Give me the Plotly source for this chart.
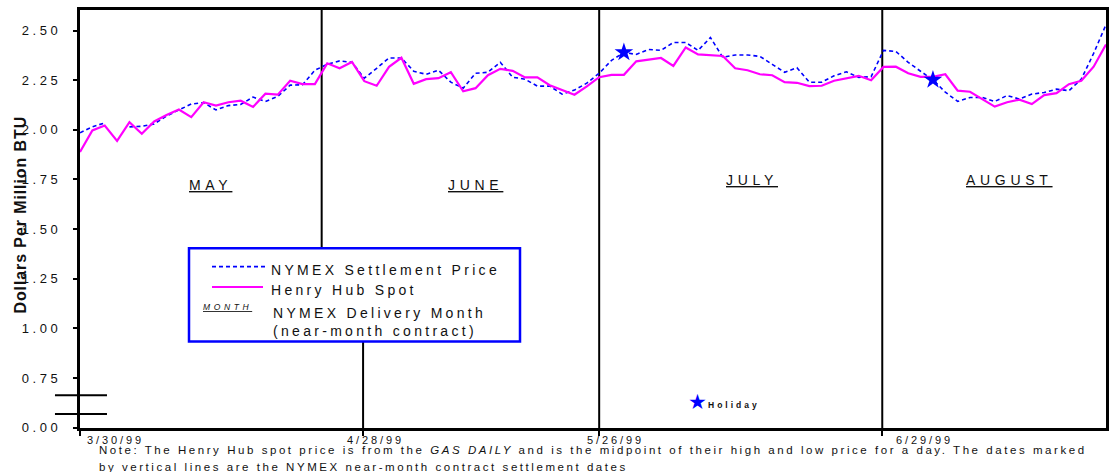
import plotly.graph_objects as go

# Daily prices, $/MMBtu, one value per trading day starting 3/30/99
spot = [1.889, 1.997, 2.022, 1.944, 2.039, 1.980, 2.042, 2.075, 2.102, 2.064,
        2.139, 2.122, 2.139, 2.147, 2.115, 2.182, 2.177, 2.247, 2.230, 2.230,
        2.335, 2.310, 2.342, 2.245, 2.222, 2.317, 2.363, 2.232, 2.255, 2.260,
        2.290, 2.194, 2.210, 2.275, 2.307, 2.297, 2.264, 2.264, 2.225, 2.202,
        2.177, 2.219,
        2.265, 2.277, 2.277, 2.345, 2.353, 2.362, 2.322, 2.415, 2.380, 2.375,
        2.372, 2.310, 2.300, 2.280, 2.275, 2.240, 2.237, 2.220, 2.222, 2.247,
        2.258, 2.272, 2.250,
        2.317, 2.318, 2.285, 2.267, 2.267, 2.280, 2.197, 2.192, 2.155, 2.117,
        2.139, 2.152, 2.130, 2.175, 2.185, 2.230, 2.247, 2.318, 2.430]

settle = [1.985, 2.015, 2.035, None, 2.015, 2.018, 2.030, 2.070, 2.100, 2.130,
          2.137, 2.100, 2.122, 2.128, 2.165, 2.143, 2.168, 2.225, 2.227, 2.300,
          2.330, 2.347, 2.340, 2.260, 2.310, 2.362, 2.362, 2.295, 2.280, 2.300,
          2.240, 2.210, 2.285, 2.290, 2.340, 2.265, 2.255, 2.220, 2.220, 2.180,
          2.200, 2.235,
          2.285, 2.350, 2.390, 2.380, 2.405, 2.400, 2.440, 2.440, 2.400, 2.465,
          2.365, 2.377, 2.377, 2.370, 2.330, 2.290, 2.313, 2.240, 2.240, 2.272,
          2.292, 2.264, 2.268,
          2.400, 2.395, 2.340, 2.295, 2.252, 2.190, 2.143, 2.163, 2.163, 2.143,
          2.173, 2.155, 2.180, 2.188, 2.205, 2.197, 2.255, 2.385, 2.530]

day_idx = list(range(len(spot)))

# Trading days that were holidays (marked with a star)
holiday_idx = [44, 69]

# Axis labels
y_tickvals = [0.5, 0.75, 1.0, 1.25, 1.5, 1.75, 2.0, 2.25, 2.5]
y_ticklabels = ["0.00", "0.75", "1.00", "1.25", "1.50", "1.75", "2.00", "2.25", "2.50"]
x_ticklabels = ["3/30/99", "4/28/99", "5/26/99", "6/29/99"]
month_labels = ["MAY", "JUNE", "JULY", "AUGUST"]

# Placement (trading-day index / price units)
expiry_ticks = [0, 22.9, 42, 64.9]
x_label_pos = [2.9, 23.9, 43.3, 68.3]
month_pos = [(10.55, 1.724), (32.0, 1.724), (54.4, 1.749), (75.2, 1.749)]

FONT = "Liberation Sans, Arial, Helvetica, sans-serif"
BLUE = "#0000FF"
MAGENTA = "#FF00FF"


def spaced(text, ls):
    return f'<span style="letter-spacing:{ls}px">{text}</span>'


fig = go.Figure()

fig.add_trace(go.Scatter(
    x=day_idx, y=settle, mode="lines", name="NYMEX Settlement Price",
    line=dict(color=BLUE, width=1.6, dash="4px,3px"), connectgaps=False,
))
fig.add_trace(go.Scatter(
    x=day_idx, y=spot, mode="lines", name="Henry Hub Spot",
    line=dict(color=MAGENTA, width=2.2),
))
fig.add_trace(go.Scatter(
    x=holiday_idx, y=[settle[i] for i in holiday_idx], mode="markers",
    name="Holiday", marker=dict(symbol="star", size=14, color=BLUE),
))

shapes = []
# Contract settlement dates (the 4/28 line is interrupted by the key box)
segments = [(19.55, 1.2, 2.61), (22.9, 0.49, 1.0), (42, 0.49, 2.61), (64.9, 0.49, 2.61)]
for xv, y0, y1 in segments:
    shapes.append(dict(type="line", xref="x", yref="y", x0=xv, x1=xv, y0=y0, y1=y1,
                       line=dict(color="black", width=2), layer="below"))

# Axis break marks
for yv in (0.6635, 0.5685):
    shapes.append(dict(type="line", xref="paper", yref="y", x0=-0.0244, x1=0.0263,
                       y0=yv, y1=yv, line=dict(color="black", width=2), layer="above"))


def px_x(p):
    return (p - 80) / 1026


def px_y(p):
    return (428 - p) / 421


# Key box
shapes.append(dict(type="rect", xref="paper", yref="paper",
                   x0=px_x(189), x1=px_x(520), y0=px_y(341), y1=px_y(247),
                   line=dict(color=BLUE, width=2.5), fillcolor="white", layer="above"))
shapes.append(dict(type="line", xref="paper", yref="paper",
                   x0=px_x(212), x1=px_x(265), y0=px_y(265.5), y1=px_y(265.5),
                   line=dict(color=BLUE, width=1.6, dash="4px,3px"), layer="above"))
shapes.append(dict(type="line", xref="paper", yref="paper",
                   x0=px_x(212), x1=px_x(263), y0=px_y(286), y1=px_y(286),
                   line=dict(color=MAGENTA, width=2.2), layer="above"))

annotations = []
# Key texts
annotations.append(dict(xref="paper", yref="paper", x=px_x(269), y=px_y(268.5),
                        xanchor="left", yanchor="middle", showarrow=False,
                        text=spaced("NYMEX Settlement Price", 3.3),
                        font=dict(size=14, color="#111")))
annotations.append(dict(xref="paper", yref="paper", x=px_x(269), y=px_y(289.5),
                        xanchor="left", yanchor="middle", showarrow=False,
                        text=spaced("Henry Hub Spot", 3.3),
                        font=dict(size=14, color="#111")))
annotations.append(dict(xref="paper", yref="paper", x=px_x(271), y=px_y(321),
                        xanchor="left", yanchor="middle", showarrow=False, align="left",
                        text=spaced("NYMEX Delivery Month<br>(near-month contract)", 3.3),
                        font=dict(size=14, color="#111")))
annotations.append(dict(xref="paper", yref="paper", x=px_x(227), y=px_y(306.5),
                        xanchor="center", yanchor="middle", showarrow=False,
                        text="<u><i>" + spaced("MONTH", 3.6) + "</i></u>",
                        font=dict(size=8.5, color="#111")))

# Month (delivery contract) labels
for (xv, yv), m in zip(month_pos, month_labels):
    annotations.append(dict(xref="x", yref="y", x=xv, y=yv, showarrow=False,
                            xanchor="center", yanchor="middle",
                            text="<u>" + spaced(m, 4.7) + "</u>",
                            font=dict(size=14, color="#111")))

# Date labels under the settlement ticks
for xv, lab in zip(x_label_pos, x_ticklabels):
    annotations.append(dict(xref="x", yref="paper", x=xv, y=px_y(440), showarrow=False,
                            xanchor="center", yanchor="middle",
                            text=spaced(lab, 2.9), font=dict(size=11, color="#111")))

# Holiday key
annotations.append(dict(xref="paper", yref="paper", x=px_x(697.5), y=px_y(402), showarrow=False,
                        xanchor="center", yanchor="middle", text="★",
                        font=dict(size=21, color=BLUE, family="DejaVu Sans")))
annotations.append(dict(xref="paper", yref="paper", x=px_x(706), y=px_y(405), showarrow=False,
                        xanchor="left", yanchor="middle",
                        text="<b>" + spaced("Holiday", 3) + "</b>",
                        font=dict(size=8.5, color="#111")))

# Y axis title
annotations.append(dict(xref="paper", yref="paper", x=px_x(20.5), y=px_y(213.5),
                        showarrow=False, textangle=-90, xanchor="center", yanchor="middle",
                        text="<b>" + spaced("Dollars Per Million BTU", 0.9) + "</b>",
                        font=dict(size=16, color="#111")))

# Footnote, two lines
note_lines = [
    "Note: The Henry Hub spot price is from the <i>GAS DAILY</i> and is the midpoint of their "
    "high and low price for a day. The dates marked",
    "by vertical lines are the NYMEX near-month contract settlement dates",
]
for line_text, yc in zip(note_lines, (450.5, 467.5)):
    annotations.append(dict(xref="paper", yref="paper", x=px_x(97), y=px_y(yc), showarrow=False,
                            xanchor="left", yanchor="middle", align="left",
                            text=spaced(line_text, 2.55), font=dict(size=11.5, color="#111")))

fig.update_layout(
    width=1116, height=472,
    margin=dict(l=80, r=10, t=7, b=44),
    paper_bgcolor="white", plot_bgcolor="white",
    showlegend=False,
    font=dict(family=FONT, color="#111"),
    shapes=shapes, annotations=annotations,
)
fig.update_xaxes(
    range=[0, 83], showgrid=False, zeroline=False,
    showline=True, linewidth=3, linecolor="black", mirror=True,
    ticks="outside", ticklen=5, tickwidth=1.5, tickcolor="black",
    tickvals=expiry_ticks, showticklabels=False,
)
fig.update_yaxes(
    range=[0.4985, 2.6035], showgrid=False, zeroline=False,
    showline=True, linewidth=3, linecolor="black", mirror=True,
    ticks="outside", ticklen=4, tickwidth=1.5, tickcolor="black",
    tickvals=y_tickvals, ticktext=[spaced(t, 3.6) for t in y_ticklabels],
    tickfont=dict(size=13, color="#111"), ticklabelstandoff=9,
)

fig.write_html("out.html")
